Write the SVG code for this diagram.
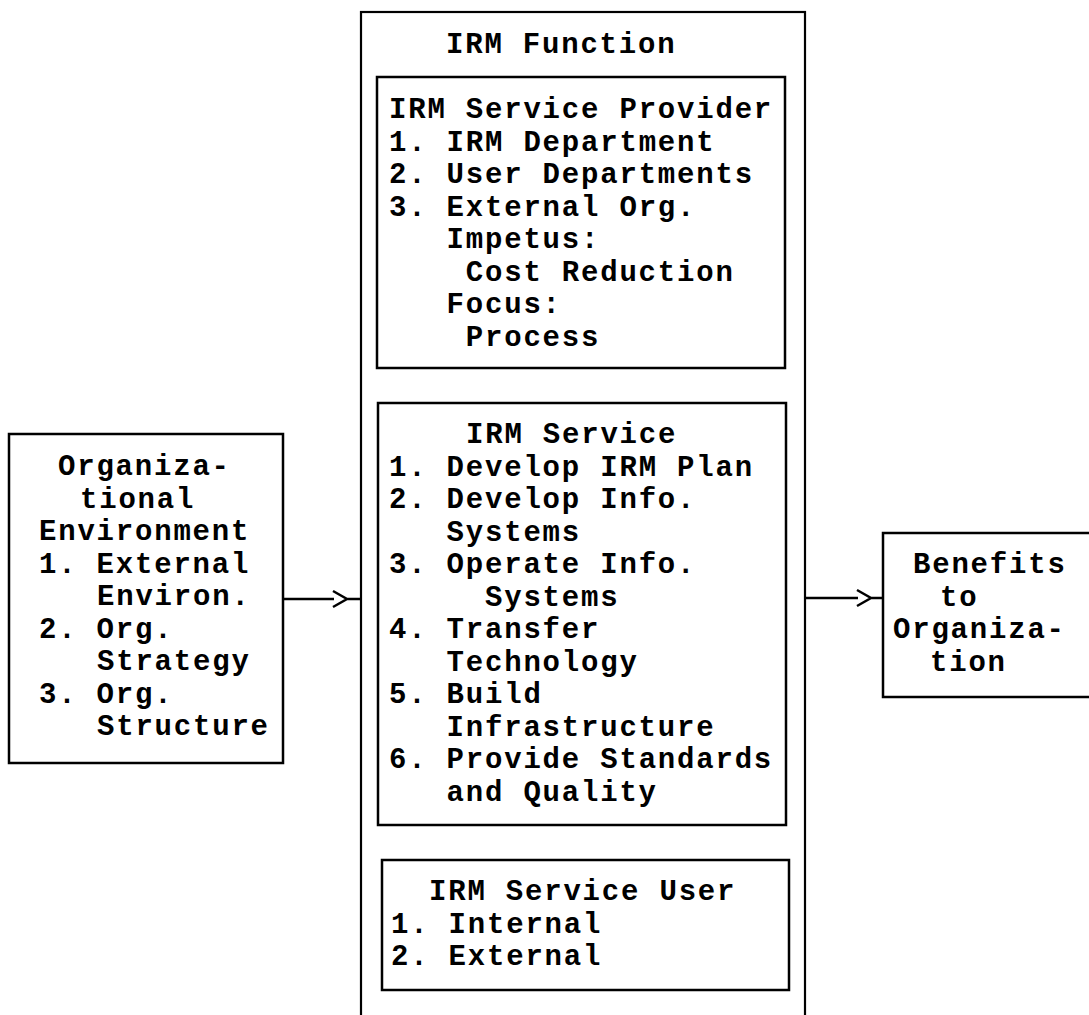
<svg xmlns="http://www.w3.org/2000/svg" width="1089" height="1015" viewBox="0 0 1089 1015">
  <style>
    .box { fill: none; stroke: #000; stroke-width: 2.5; }
    .outer { fill: none; stroke: #000; stroke-width: 2.2; }
    .wire { fill: none; stroke: #000; stroke-width: 2.5; }
    text { font-family: "Liberation Mono", "DejaVu Sans Mono", monospace; font-size: 29px; font-weight: bold; letter-spacing: 1.8px; fill: #000; }
  </style>
  <rect width="1089" height="1015" fill="#fff"/>

  <!-- Organizational environment -->
  <g id="org-environment">
    <rect class="box" x="9" y="434" width="274" height="329"/>
    <text x="58" y="475">Organiza-</text>
    <text x="80" y="507.5">tional</text>
    <text x="39" y="540">Environment</text>
    <text x="39" y="572.5">1. External</text>
    <text x="97" y="605">Environ.</text>
    <text x="39" y="637.5">2. Org.</text>
    <text x="97" y="670">Strategy</text>
    <text x="39" y="702.5">3. Org.</text>
    <text x="97" y="735">Structure</text>
  </g>

  <!-- IRM function container -->
  <g id="irm-function">
    <rect class="outer" x="361" y="12" width="444" height="1030"/>
    <text x="446" y="53">IRM Function</text>
  </g>

  <g id="irm-service-provider">
    <rect class="box" x="377" y="77" width="408" height="291"/>
    <text x="389" y="118">IRM Service Provider</text>
    <text x="389" y="150.5">1. IRM Department</text>
    <text x="389" y="183">2. User Departments</text>
    <text x="389" y="215.5">3. External Org.</text>
    <text x="446.6" y="248">Impetus:</text>
    <text x="465.8" y="280.5">Cost Reduction</text>
    <text x="446.6" y="313">Focus:</text>
    <text x="465.8" y="345.5">Process</text>
  </g>

  <g id="irm-service">
    <rect class="box" x="378" y="403" width="408" height="422"/>
    <text x="466" y="443">IRM Service</text>
    <text x="389" y="475.5">1. Develop IRM Plan</text>
    <text x="389" y="508">2. Develop Info.</text>
    <text x="446.6" y="540.5">Systems</text>
    <text x="389" y="573">3. Operate Info.</text>
    <text x="485" y="605.5">Systems</text>
    <text x="389" y="638">4. Transfer</text>
    <text x="446.6" y="670.5">Technology</text>
    <text x="389" y="703">5. Build</text>
    <text x="446.6" y="735.5">Infrastructure</text>
    <text x="389" y="768">6. Provide Standards</text>
    <text x="446.6" y="800.5">and Quality</text>
  </g>

  <g id="irm-service-user">
    <rect class="box" x="382" y="860" width="407" height="130"/>
    <text x="429" y="900">IRM Service User</text>
    <text x="391" y="932.5">1. Internal</text>
    <text x="391" y="965">2. External</text>
  </g>

  <!-- Benefits -->
  <g id="benefits">
    <rect class="box" x="883" y="533" width="220" height="164"/>
    <text x="913" y="573">Benefits</text>
    <text x="940" y="605.5">to</text>
    <text x="893" y="638">Organiza-</text>
    <text x="930" y="670.5">tion</text>
  </g>

  <!-- Connectors -->
  <g id="connectors">
    <path class="wire" d="M283,599 H334 M333,591 L347,599 L333,607 M347,599 H361"/>
    <path class="wire" d="M805,598 H858 M857,590 L871,598 L857,606 M871,598 H883"/>
  </g>
</svg>
